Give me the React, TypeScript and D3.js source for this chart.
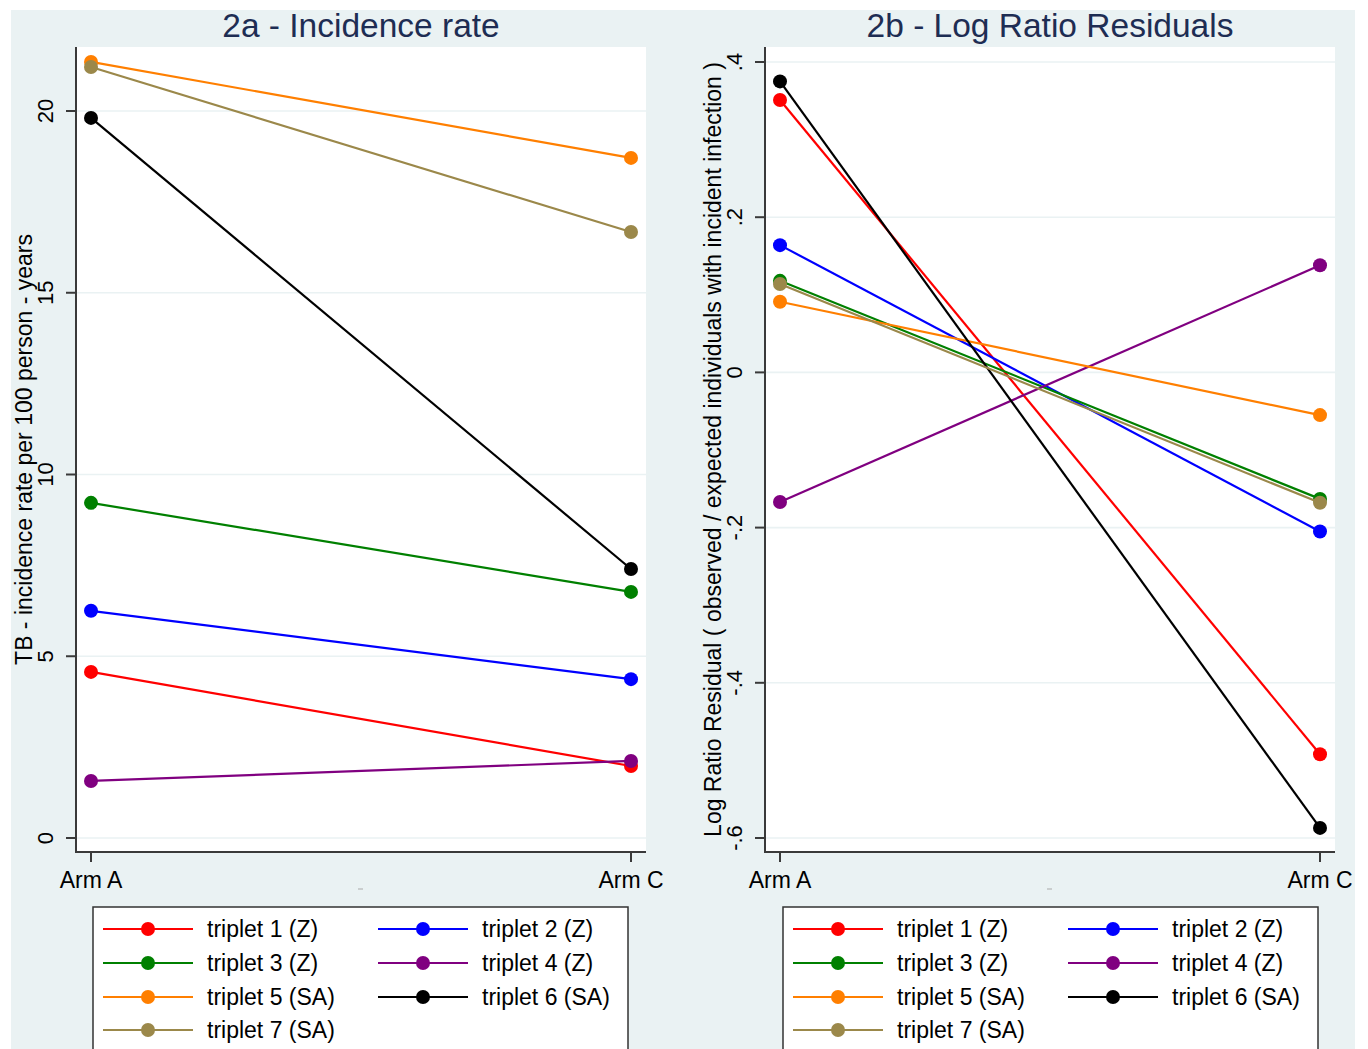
import React from "react";
import * as d3 from "d3";

const categories = ["Arm A", "Arm C"];
const seriesNames = [
  "triplet 1 (Z)",
  "triplet 2 (Z)",
  "triplet 3 (Z)",
  "triplet 4 (Z)",
  "triplet 5 (SA)",
  "triplet 6 (SA)",
  "triplet 7 (SA)",
];
const seriesColors = ["#FF0000", "#0000FF", "#008000", "#800080", "#FF7F00", "#000000", "#9B884A"];

const incidenceArmA = [4.57, 6.25, 9.22, 1.57, 21.35, 19.81, 21.21];
const incidenceArmC = [1.98, 4.37, 6.77, 2.12, 18.71, 7.4, 16.67];
const residualArmA = [0.351, 0.164, 0.118, -0.167, 0.091, 0.375, 0.114];
const residualArmC = [-0.492, -0.205, -0.163, 0.138, -0.055, -0.587, -0.168];

const incidenceTicks = [0, 5, 10, 15, 20];
const incidenceTickLabels = ["0", "5", "10", "15", "20"];
const residualTicks = [-0.6, -0.4, -0.2, 0, 0.2, 0.4];
const residualTickLabels = ["-.6", "-.4", "-.2", "0", ".2", ".4"];

const FONT = "'Liberation Sans', Arial, Helvetica, sans-serif";
const BG = "#EAF2F3";
const AXIS = "#3a3a3a";

type PanelProps = {
  title: string;
  yTitle: string;
  left: number;
  right: number;
  xA: number;
  xC: number;
  yDomain: [number, number];
  yRange: [number, number];
  ticks: number[];
  tickLabels: string[];
  armA: number[];
  armC: number[];
  yTitleX: number;
  legendX: number;
};

function Panel(p: PanelProps) {
  const top = 47;
  const bottom = 852;
  const x = d3.scalePoint<string>().domain(categories).range([p.xA, p.xC]);
  const y = d3.scaleLinear().domain(p.yDomain).range(p.yRange);
  const line = d3
    .line<[string, number]>()
    .x((d) => x(d[0]) as number)
    .y((d) => y(d[1]));
  const cx = (p.left + p.right) / 2;
  const legendRows = [929, 963, 997, 1030];
  const colOffsets = [0, 275];
  return (
    <g>
      <rect x={p.left} y={top} width={p.right - p.left} height={bottom - top} fill="#FFFFFF" />
      {p.ticks.map((t, i) => (
        <line key={"g" + i} x1={p.left} x2={p.right} y1={y(t)} y2={y(t)} stroke={BG} strokeWidth={1.6} />
      ))}
      <text x={cx} y={37} textAnchor="middle" fontFamily={FONT} fontSize={33.5} fill="#1E2D53">
        {p.title}
      </text>
      {/* y axis */}
      <line x1={p.left} x2={p.left} y1={top} y2={bottom + 1} stroke={AXIS} strokeWidth={2} />
      {p.ticks.map((t, i) => (
        <g key={"t" + i}>
          <line x1={p.left - 10} x2={p.left} y1={y(t)} y2={y(t)} stroke={AXIS} strokeWidth={2} />
          <text
            transform={`translate(${p.left - 23},${y(t)}) rotate(-90)`}
            textAnchor="middle"
            fontFamily={FONT}
            fontSize={22}
            fill="#000"
          >
            {p.tickLabels[i]}
          </text>
        </g>
      ))}
      <text
        transform={`translate(${p.yTitleX},${(top + bottom) / 2}) rotate(-90)`}
        textAnchor="middle"
        fontFamily={FONT}
        fontSize={23}
        fill="#000"
      >
        {p.yTitle}
      </text>
      {/* x axis */}
      <line x1={p.left} x2={p.right} y1={bottom} y2={bottom} stroke={AXIS} strokeWidth={2} />
      {categories.map((c) => (
        <g key={c}>
          <line x1={x(c)} x2={x(c)} y1={bottom} y2={bottom + 10} stroke={AXIS} strokeWidth={2} />
          <text x={x(c)} y={888} textAnchor="middle" fontFamily={FONT} fontSize={23} fill="#000">
            {c}
          </text>
        </g>
      ))}
      <line x1={cx - 3} x2={cx + 2} y1={889} y2={889} stroke="#AAAAAA" strokeWidth={1} />
      {/* series */}
      {seriesNames.map((s, i) => {
        const pts: [string, number][] = [
          [categories[0], p.armA[i]],
          [categories[1], p.armC[i]],
        ];
        return (
          <g key={s}>
            <path d={line(pts) as string} fill="none" stroke={seriesColors[i]} strokeWidth={2.2} />
            {pts.map((d, j) => (
              <circle key={j} cx={x(d[0])} cy={y(d[1])} r={7} fill={seriesColors[i]} />
            ))}
          </g>
        );
      })}
      {/* legend */}
      <rect x={p.legendX} y={907} width={535} height={170} fill="#FFFFFF" stroke="#333" strokeWidth={1.5} />
      {seriesNames.map((s, i) => {
        const row = Math.floor(i / 2);
        const col = i % 2;
        const lx = p.legendX + 10 + colOffsets[col];
        const ly = legendRows[row];
        return (
          <g key={"l" + i}>
            <line x1={lx} x2={lx + 90} y1={ly} y2={ly} stroke={seriesColors[i]} strokeWidth={2.2} />
            <circle cx={lx + 45} cy={ly} r={7} fill={seriesColors[i]} />
            <text x={lx + 104} y={ly + 8} fontFamily={FONT} fontSize={23} fill="#000">
              {s}
            </text>
          </g>
        );
      })}
    </g>
  );
}

export default function App() {
  return (
    <svg
      width={1368}
      height={1049}
      style={{ position: "absolute", left: 0, top: 0, display: "block" }}
      xmlns="http://www.w3.org/2000/svg"
    >
      <rect x={0} y={0} width={1368} height={1049} fill="#FFFFFF" />
      <rect x={11} y={10} width={1344} height={1039} fill={BG} />
      <Panel
        title="2a - Incidence rate"
        yTitle="TB - incidence rate per 100 person - years"
        left={76}
        right={646}
        xA={91}
        xC={631}
        yDomain={[0, 20]}
        yRange={[838, 111]}
        ticks={incidenceTicks}
        tickLabels={incidenceTickLabels}
        armA={incidenceArmA}
        armC={incidenceArmC}
        yTitleX={32}
        legendX={93}
      />
      <Panel
        title="2b - Log Ratio Residuals"
        yTitle="Log Ratio Residual ( observed / expected individuals with incident infection )"
        left={765}
        right={1335}
        xA={780}
        xC={1320}
        yDomain={[-0.6, 0.4]}
        yRange={[838, 62]}
        ticks={residualTicks}
        tickLabels={residualTickLabels}
        armA={residualArmA}
        armC={residualArmC}
        yTitleX={721}
        legendX={783}
      />
    </svg>
  );
}
